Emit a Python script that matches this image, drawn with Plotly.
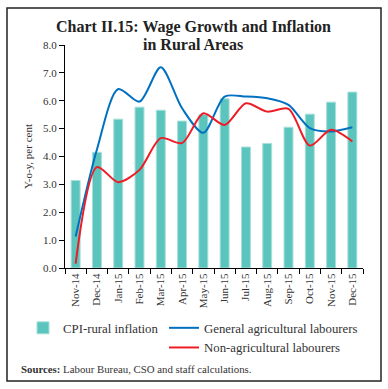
import plotly.graph_objects as go

months = ["Nov-14", "Dec-14", "Jan-15", "Feb-15", "Mar-15", "Apr-15", "May-15",
          "Jun-15", "Jul-15", "Aug-15", "Sep-15", "Oct-15", "Nov-15", "Dec-15"]
cpi_rural = [3.14, 4.15, 5.34, 5.77, 5.66, 5.27, 5.5, 6.07, 4.34, 4.47, 5.05, 5.52, 5.95, 6.31]
general_agri = [1.13, 4.25, 6.42, 5.97, 7.2, 5.73, 4.85, 6.15, 6.15, 6.09, 5.85, 5.02, 4.9, 5.05]
non_agri = [0.16, 3.62, 3.08, 3.52, 4.66, 4.48, 5.55, 5.13, 5.91, 5.61, 5.71, 4.39, 4.96, 4.54]
y_ticks = [0, 1, 2, 3, 4, 5, 6, 7, 8]
title_lines = ["Chart II.15: Wage Growth and Inflation", "in Rural Areas"]

FONT = "Liberation Serif"
W, H = 388, 389
ML, MR, MT, MB = 65, 25, 45, 121
PW, PH = W - ML - MR, H - MT - MB


def px(x):
    return (x - ML) / PW


def py(y):
    return (H - MB - y) / PH


fig = go.Figure()
fig.add_trace(go.Bar(
    x=months, y=cpi_rural, name="CPI-rural inflation",
    marker=dict(color="#5BC4BD", line=dict(color="#A8DFDB", width=1)),
    width=0.42, legend="legend",
))
fig.add_trace(go.Scatter(
    x=months, y=general_agri, name="General agricultural labourers",
    mode="lines", line=dict(color="#0070C0", width=2, shape="spline", smoothing=0.8),
    legend="legend2",
))
fig.add_trace(go.Scatter(
    x=months, y=non_agri, name="Non-agricultural labourers",
    mode="lines", line=dict(color="#EE1C25", width=2, shape="spline", smoothing=0.8),
    legend="legend2",
))

fig.update_layout(
    width=W, height=H,
    margin=dict(l=ML, r=MR, t=MT, b=MB, autoexpand=False),
    paper_bgcolor="white", plot_bgcolor="white",
    font=dict(family=FONT, color="#333333", size=11),
    xaxis=dict(
        type="category", showline=True, linecolor="black", linewidth=1,
        ticks="outside", tickson="boundaries", ticklen=5, tickcolor="black",
        tickangle=-90, tickfont=dict(size=11, color="#333333"),
        showgrid=False, range=[-0.5, len(months) - 0.5], automargin=False,
    ),
    yaxis=dict(
        range=[0, 8], tickvals=y_ticks, tickformat=".1f",
        showline=True, linecolor="black", linewidth=1,
        ticks="outside", ticklen=5, tickcolor="black",
        showgrid=False, zeroline=False, automargin=False,
        tickfont=dict(size=11, color="#333333"),
        title=dict(text="Y-o-y, per cent", font=dict(size=11, color="#333333"), standoff=8),
    ),
    bargap=0.5,
    legend=dict(
        x=px(23), y=py(313), xanchor="left", yanchor="top",
        font=dict(family=FONT, size=12.8, color="#333333"),
        bgcolor="rgba(0,0,0,0)", itemwidth=30,
    ),
    legend2=dict(
        x=px(164), y=py(313), xanchor="left", yanchor="top",
        font=dict(family=FONT, size=12.8, color="#333333"),
        bgcolor="rgba(0,0,0,0)", tracegroupgap=0, itemwidth=30,
    ),
    showlegend=True,
)

for line_text, yc in zip(title_lines, [27, 44]):
    fig.add_annotation(
        text=f"<b>{line_text}</b>", xref="paper", yref="paper",
        x=px(193), y=py(yc), xanchor="center", yanchor="middle", showarrow=False,
        font=dict(family=FONT, size=16, color="#222222"),
    )

fig.add_shape(type="rect", xref="paper", yref="paper",
              x0=px(7), x1=px(381), y0=py(381), y1=py(8),
              line=dict(color="#222222", width=1.5), fillcolor="rgba(0,0,0,0)")

fig.add_annotation(
    text="<b>Sources:</b> Labour Bureau, CSO and staff calculations.",
    xref="paper", yref="paper", x=px(19), y=py(369),
    xanchor="left", yanchor="middle", showarrow=False,
    font=dict(family=FONT, size=10.8, color="#333333"),
)

fig.write_html("out.html", config={"displayModeBar": False},
               post_script="document.body.style.margin='0';")
